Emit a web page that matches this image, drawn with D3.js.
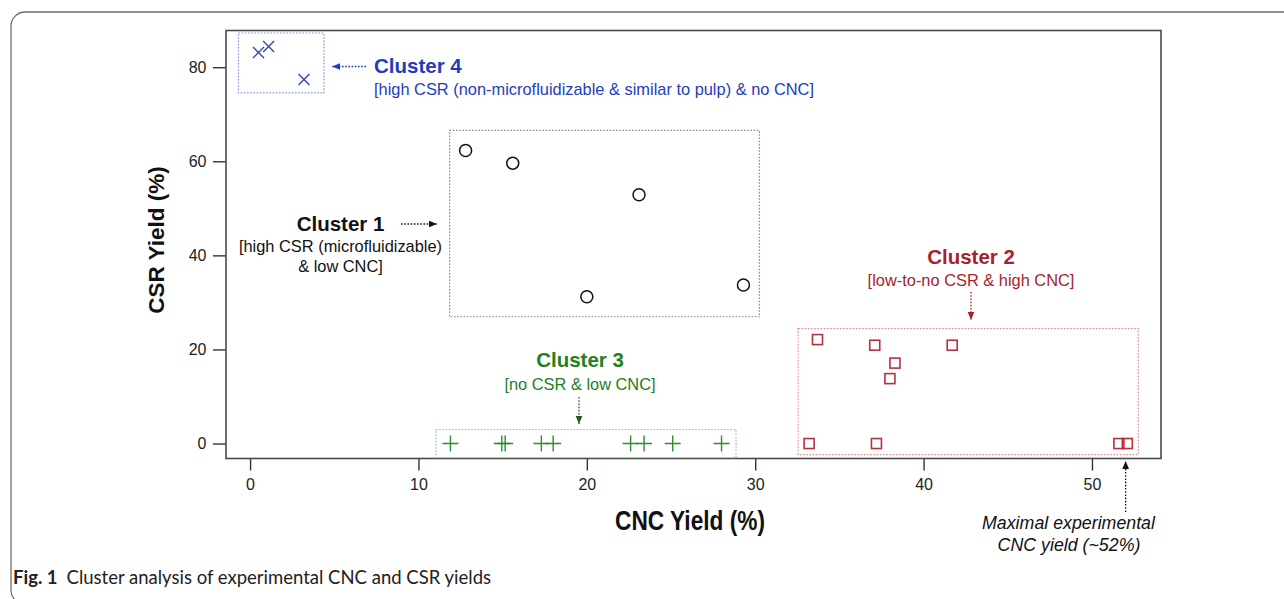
<!DOCTYPE html>
<html>
<head>
<meta charset="utf-8">
<script src="https://cdn.jsdelivr.net/npm/d3@7"></script>
<style>
  html, body { margin: 0; padding: 0; background: #fff; }
  svg { display: block; font-family: "Liberation Sans", Arial, Helvetica, sans-serif; }
</style>
</head>
<body>
<svg id="chart" width="1284" height="599"></svg>
<script>
// Cluster 1: high CSR (microfluidizable) & low CNC
const c1CNC = [12.8, 15.6, 23.1, 20.0, 29.3];
const c1CSR = [62.3, 59.6, 52.9, 31.2, 33.7];
// Cluster 2: low-to-no CSR & high CNC
const c2CNC = [33.7, 37.1, 41.7, 38.3, 38.0, 33.2, 37.2, 51.6, 52.1];
const c2CSR = [22.1, 20.9, 20.9, 17.1, 13.8, 0, 0, 0, 0];
// Cluster 3: no CSR & low CNC
const c3CNC = [11.9, 14.95, 15.15, 17.3, 18.0, 22.6, 23.4, 25.1, 28.0];
const c3CSR = [0, 0, 0, 0, 0, 0, 0, 0, 0];
// Cluster 4: high CSR (non-microfluidizable) & no CNC
const c4CNC = [0.5, 1.1, 3.2];
const c4CSR = [83.1, 84.4, 77.4];

const xTicks = [0, 10, 20, 30, 40, 50];
const yTicks = [0, 20, 40, 60, 80];
const maxCNC = 52;

const svg = d3.select("#chart");
const plot = { left: 226, right: 1161, top: 30.5, bottom: 458.5 };

const x = d3.scaleLinear().domain([-1.43, 54.1]).range([plot.left, plot.right]);
const y = d3.scaleLinear().domain([-3.18, 87.8]).range([plot.bottom, plot.top]);

const zip = (a, b) => a.map((v, i) => ({ cnc: v, csr: b[i] }));

const BLUE = "#1f3dbd", BLUE_M = "#3048c2", BLUE_BOX = "#8595d6";
const RED = "#a8232b", RED_M = "#b5323d", RED_BOX = "#e58a97";
const GREEN = "#23801f", GREEN_M = "#2f8c2c", GREEN_BOX = "#95c595";
const GREY_BOX = "#8a8a8a";

// figure border (rounded panel, runs past the right and bottom edges)
svg.append("rect")
  .attr("x", 11).attr("y", 12).attr("width", 1300).attr("height", 592)
  .attr("rx", 14).attr("fill", "none").attr("stroke", "#6e6e6e").attr("stroke-width", 1.3);

// arrowhead markers
const defs = svg.append("defs");
function arrowMarker(id, color) {
  defs.append("marker")
    .attr("id", id).attr("viewBox", "0 0 10 10")
    .attr("refX", 10).attr("refY", 5)
    .attr("markerWidth", 8).attr("markerHeight", 8)
    .attr("markerUnits", "userSpaceOnUse")
    .attr("orient", "auto")
    .append("path").attr("d", "M0,0.8L10,5L0,9.2Z").attr("fill", color);
}
arrowMarker("arrBlack", "#111");
arrowMarker("arrBlue", BLUE);
arrowMarker("arrRed", RED);
arrowMarker("arrGreen", "#1d5e1d");

// axes (ticks hang outside the frame)
const xAxis = svg.append("g")
  .attr("transform", `translate(0,${plot.bottom})`)
  .call(d3.axisBottom(x).tickValues(xTicks).tickSize(12).tickPadding(8).tickSizeOuter(0));
const yAxis = svg.append("g")
  .attr("transform", `translate(${plot.left},0)`)
  .call(d3.axisLeft(y).tickValues(yTicks).tickSize(13).tickPadding(6.5).tickSizeOuter(0));
[xAxis, yAxis].forEach(g => {
  g.select(".domain").remove();
  g.selectAll(".tick line").attr("stroke", "#333").attr("stroke-width", 1.4);
  g.selectAll(".tick text")
    .attr("fill", "#222")
    .style("font-size", "16px")
    .style("font-family", "'Liberation Sans', Arial, sans-serif");
});

// plot frame
svg.append("rect")
  .attr("x", plot.left).attr("y", plot.top)
  .attr("width", plot.right - plot.left).attr("height", plot.bottom - plot.top)
  .attr("fill", "none").attr("stroke", "#4a4a4a").attr("stroke-width", 1.6);

// axis titles
svg.append("text")
  .attr("transform", "translate(690,530) scale(0.81,1)")
  .attr("text-anchor", "middle")
  .attr("font-weight", "bold").attr("font-size", 28).attr("fill", "#111")
  .text("CNC Yield (%)");
svg.append("text")
  .attr("transform", "translate(164,240) rotate(-90)")
  .attr("text-anchor", "middle")
  .attr("font-weight", "bold").attr("font-size", 22.5).attr("fill", "#111")
  .text("CSR Yield (%)");

// dotted box around each cluster, padded in pixels around its points
function clusterBox(pts, padX, padY, color) {
  const ex = d3.extent(pts, d => d.cnc), ey = d3.extent(pts, d => d.csr);
  const x0 = x(ex[0]) - padX, x1 = x(ex[1]) + padX;
  const y0 = y(ey[1]) - padY, y1 = y(ey[0]) + padY;
  svg.append("rect")
    .attr("x", x0).attr("y", y0).attr("width", x1 - x0).attr("height", y1 - y0)
    .attr("fill", "none").attr("stroke", color).attr("stroke-width", 1.2)
    .attr("stroke-dasharray", "1.6,1.6");
}
const p1 = zip(c1CNC, c1CSR), p2 = zip(c2CNC, c2CSR), p3 = zip(c3CNC, c3CSR), p4 = zip(c4CNC, c4CSR);
clusterBox(p1, 16, 20, GREY_BOX);
clusterBox(p2, 11, 11, RED_BOX);
clusterBox(p3, 14.5, 14, GREEN_BOX);
clusterBox(p4, 20, 13.5, BLUE_BOX);

// markers
svg.append("g").selectAll("circle").data(p1).join("circle")
  .attr("cx", d => x(d.cnc)).attr("cy", d => y(d.csr)).attr("r", 6)
  .attr("fill", "none").attr("stroke", "#111").attr("stroke-width", 1.5);

svg.append("g").selectAll("rect").data(p2).join("rect")
  .attr("x", d => x(d.cnc) - 5).attr("y", d => y(d.csr) - 5)
  .attr("width", 10).attr("height", 10)
  .attr("fill", "none").attr("stroke", RED_M).attr("stroke-width", 1.6);

svg.append("g").selectAll("path").data(p3).join("path")
  .attr("transform", d => `translate(${x(d.cnc)},${y(d.csr)})`)
  .attr("d", "M-8,0H8M0,-8V8")
  .attr("fill", "none").attr("stroke", GREEN_M).attr("stroke-width", 1.4);

svg.append("g").selectAll("path").data(p4).join("path")
  .attr("transform", d => `translate(${x(d.cnc)},${y(d.csr)})`)
  .attr("d", "M-5.5,-5.5L5.5,5.5M-5.5,5.5L5.5,-5.5")
  .attr("fill", "none").attr("stroke", BLUE_M).attr("stroke-width", 1.4);

// annotations
function label(tx, ty, str, opts) {
  return svg.append("text")
    .attr("x", tx).attr("y", ty)
    .attr("text-anchor", opts.anchor || "start")
    .attr("font-size", opts.size)
    .attr("font-weight", opts.bold ? "bold" : "normal")
    .attr("font-style", opts.italic ? "italic" : "normal")
    .attr("fill", opts.color)
    .text(str);
}
function dottedArrow(x1, y1, x2, y2, color, marker) {
  svg.append("line")
    .attr("x1", x1).attr("y1", y1).attr("x2", x2).attr("y2", y2)
    .attr("stroke", color).attr("stroke-width", 1.3)
    .attr("stroke-dasharray", "1.6,1.6")
    .attr("marker-end", `url(#${marker})`);
}

// Cluster 4
label(374, 73, "Cluster 4", { size: 20.5, bold: true, color: BLUE });
label(374, 95, "[high CSR (non-microfluidizable & similar to pulp) & no CNC]", { size: 16.4, color: BLUE });
dottedArrow(366, 66.5, 332, 66.5, BLUE, "arrBlue");

// Cluster 1
label(340.5, 231, "Cluster 1", { size: 20.5, bold: true, color: "#111", anchor: "middle" });
label(340.5, 251.5, "[high CSR (microfluidizable)", { size: 16.4, color: "#111", anchor: "middle" });
label(340.5, 272, "& low CNC]", { size: 16.4, color: "#111", anchor: "middle" });
dottedArrow(401, 224, 437, 224, "#111", "arrBlack");

// Cluster 2
label(971, 264, "Cluster 2", { size: 20.5, bold: true, color: RED, anchor: "middle" });
label(971, 285.5, "[low-to-no CSR & high CNC]", { size: 16.4, color: RED, anchor: "middle" });
dottedArrow(971, 292, 971, 320, RED, "arrRed");

// Cluster 3
label(580, 367, "Cluster 3", { size: 20.5, bold: true, color: GREEN, anchor: "middle" });
label(580, 389.5, "[no CSR & low CNC]", { size: 16.4, color: GREEN, anchor: "middle" });
dottedArrow(579, 397, 579, 424, "#1d5e1d", "arrGreen");

// maximal experimental yield
dottedArrow(x(maxCNC), 512, x(maxCNC), 461, "#111", "arrBlack");
label(1068.5, 528.5, "Maximal experimental", { size: 17.8, italic: true, color: "#111", anchor: "middle" });
label(1069, 550.5, "CNC yield (~52%)", { size: 17.8, italic: true, color: "#111", anchor: "middle" });

// caption
const cap = svg.append("text")
  .attr("x", 13).attr("y", 584)
  .attr("font-family", "Lato, 'Open Sans', sans-serif")
  .attr("font-size", 18.5).attr("fill", "#222");
cap.append("tspan").attr("font-weight", "bold").text("Fig. 1");
cap.append("tspan").attr("dx", 9).text("Cluster analysis of experimental CNC and CSR yields");
</script>
</body>
</html>
